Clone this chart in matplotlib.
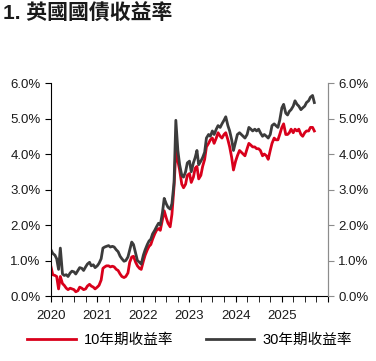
import pandas as pd
import matplotlib
matplotlib.use('Agg')
from matplotlib import pyplot as plt
import matplotlib.dates as mdates
from matplotlib.ticker import FuncFormatter

plt.rcParams['font.family'] = ['Liberation Sans', 'Noto Sans CJK TC']

title = '1. 英國國債收益率'
label_10y = '10年期收益率'
label_30y = '30年期收益率'

# semi-monthly readings (1st and 15th), Jan 2020 - Sep 2025
yield_30y = [
    1.30, 1.20, 1.15, 1.05, 0.75, 1.35, 0.62, 0.58, 0.60, 0.55, 0.65, 0.70,
    0.68, 0.62, 0.72, 0.80, 0.78, 0.72, 0.82, 0.90, 0.95, 0.85, 0.88, 0.80,
    # 2021
    0.85, 0.92, 1.05, 1.35, 1.38, 1.40, 1.42, 1.38, 1.40, 1.38, 1.30, 1.25,
    1.12, 1.05, 0.98, 1.00, 1.10, 1.30, 1.52, 1.45, 1.20, 1.00, 0.95, 0.90,
    # 2022
    1.15, 1.30, 1.45, 1.55, 1.60, 1.75, 1.85, 1.95, 2.05, 2.00, 2.35, 2.75,
    2.60, 2.50, 2.45, 2.60, 3.20, 4.95, 4.10, 3.70, 3.40, 3.35, 3.50, 3.75,
    # 2023
    3.80, 3.50, 3.75, 3.90, 4.10, 3.70, 3.80, 3.90, 4.05, 4.45, 4.55, 4.50,
    4.65, 4.55, 4.70, 4.80, 4.75, 4.85, 4.95, 5.05, 4.80, 4.65, 4.40, 4.10,
    # 2024
    4.35, 4.55, 4.60, 4.55, 4.50, 4.45, 4.55, 4.75, 4.70, 4.65, 4.70, 4.65,
    4.70, 4.60, 4.50, 4.55, 4.50, 4.45, 4.55, 4.80, 4.85, 4.80, 4.75, 4.95,
    # 2025
    5.30, 5.40, 5.15, 5.10, 5.20, 5.25, 5.35, 5.50, 5.40, 5.35, 5.25, 5.30,
    5.35, 5.45, 5.50, 5.60, 5.65, 5.45,
]
yield_10y = [
    0.82, 0.60, 0.58, 0.55, 0.20, 0.55, 0.35, 0.30, 0.22, 0.18, 0.22, 0.20,
    0.18, 0.12, 0.15, 0.25, 0.22, 0.18, 0.20, 0.28, 0.33, 0.28, 0.25, 0.20,
    # 2021
    0.25, 0.30, 0.45, 0.78, 0.82, 0.85, 0.85, 0.82, 0.84, 0.82, 0.75, 0.72,
    0.62, 0.55, 0.52, 0.55, 0.65, 0.95, 1.10, 1.12, 0.95, 0.85, 0.78, 0.75,
    # 2022
    0.98, 1.15, 1.30, 1.40, 1.45, 1.60, 1.75, 1.85, 1.90, 1.85, 2.15, 2.40,
    2.20, 2.05, 1.95, 2.30, 3.10, 4.10, 3.80, 3.55, 3.15, 3.05, 3.15, 3.40,
    # 2023
    3.45, 3.20, 3.35, 3.60, 3.65, 3.30, 3.40, 3.65, 3.85, 4.20, 4.30, 4.40,
    4.45, 4.30, 4.45, 4.60, 4.50, 4.45, 4.55, 4.60, 4.40, 4.20, 3.90, 3.55,
    # 2024
    3.80, 3.95, 4.10, 4.05, 4.00, 3.95, 4.15, 4.30, 4.25, 4.20, 4.20, 4.15,
    4.15, 4.10, 3.95, 4.00, 3.95, 3.85, 4.10, 4.30, 4.45, 4.40, 4.40, 4.55,
    # 2025
    4.75, 4.85, 4.55, 4.55, 4.60, 4.70, 4.60, 4.70, 4.65, 4.70, 4.55, 4.50,
    4.60, 4.65, 4.65, 4.75, 4.75, 4.65,
]

dates = pd.date_range('2020-01-01', periods=len(yield_30y), freq='SMS')

fig = plt.figure(figsize=(3.76, 3.61), dpi=100)
ax = fig.add_axes([0.1356, 0.180, 0.7367, 0.590])

ax.plot(dates, yield_10y, color='#d9001b', lw=2.0, label=label_10y)
ax.plot(dates, yield_30y, color='#3c3c3c', lw=2.0, label=label_30y)

ax.set_xlim(pd.Timestamp('2020-01-01'), pd.Timestamp('2026-01-01'))
ax.set_ylim(0, 6)
ax.set_yticks(range(0, 7))
pct = FuncFormatter(lambda v, pos: f'{v:.1f}%')
ax.yaxis.set_major_formatter(pct)

ax.xaxis.set_major_locator(mdates.YearLocator())
ax.xaxis.set_minor_locator(mdates.MonthLocator(bymonth=[4, 7, 10]))
ax.xaxis.set_major_formatter(FuncFormatter(
    lambda v, pos: '' if mdates.num2date(v).year > 2025 else str(mdates.num2date(v).year)))

ax.spines['top'].set_visible(False)
ax.spines['right'].set_color('#8c8c8c')
ax.tick_params(axis='both', which='both', direction='out', length=4,
               labelsize=9.5, labelcolor='#1a1a1a')
ax.tick_params(axis='x', pad=6)

ax2 = ax.twinx()
ax2.set_ylim(0, 6)
ax2.set_yticks(range(0, 7))
ax2.yaxis.set_major_formatter(pct)
for s in ['top', 'left', 'bottom']:
    ax2.spines[s].set_visible(False)
ax2.spines['right'].set_color('#8c8c8c')
ax2.tick_params(axis='y', direction='out', length=4, color='#8c8c8c',
                labelsize=9.5, labelcolor='#1a1a1a')

fig.text(0.008, 0.945, title, fontsize=15, fontweight='bold', color='#1a1a1a')

fig.legend(loc='center', bbox_to_anchor=(0.505, 0.058), ncol=2, frameon=False,
           fontsize=10.5, handlelength=3.3, columnspacing=2.2, handletextpad=0.6)

fig.savefig('out.png', dpi=100)
